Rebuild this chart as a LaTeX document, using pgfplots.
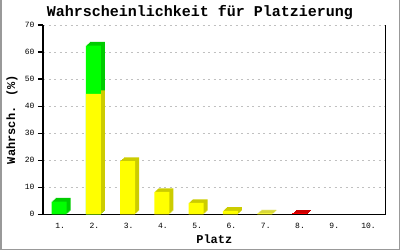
\documentclass[border=0pt]{standalone}
\usepackage{fontspec}
\setmainfont{Liberation Mono}
\usepackage{pgfplots}
\usepackage{pgfplotstable}
\pgfplotsset{compat=1.18}
\definecolor{gfront}{HTML}{00FF00}
\definecolor{gside}{HTML}{00CC00}
\definecolor{yfront}{HTML}{FFFF00}
\definecolor{yside}{HTML}{CCCC00}
\definecolor{rfront}{HTML}{FF0000}
\definecolor{rside}{HTML}{CC0000}
\definecolor{gridc}{HTML}{C0C0C0}
\pgfplotstableread{
x v
1 4.7
2 62.4
}\greendata
\pgfplotstableread{
x v
2 44.5
3 19.7
4 8.3
5 4.2
6 1.3
7 0.3
}\yellowdata
\pgfplotstableread{
x v
8 0.3
}\reddata
\begin{document}
\begin{tikzpicture}
\useasboundingbox (0,0) rectangle (400pt,250pt);
\draw[gray!80, line width=1.5pt] (0.75pt,250pt) -- (0.75pt,0.75pt) -- (399.25pt,0.75pt) -- (399.25pt,250pt);
\node[font=\fontsize{15}{18}\selectfont\bfseries] at (200pt,237.5pt) {Wahrscheinlichkeit für Platzierung};
\begin{axis}[
  at={(43pt,35.7pt)}, anchor=south west,
  scale only axis, width=342.7pt, height=189.3pt,
  xmin=0.5, xmax=10.5, ymin=0, ymax=70,
  axis x line=bottom, axis y line=left,
  axis line style={line width=1.2pt, -},
  ybar, bar width=15pt,
  xtick={1,...,10},
  xticklabels={1.,2.,3.,4.,5.,6.,7.,8.,9.,10.},
  xtick style={draw=none},
  ytick={0,10,...,70},
  ytick style={line width=1.2pt, black},
  tick align=outside, major tick length=5pt,
  ymajorgrids,
  major grid style={gridc, line width=0.8pt, dash pattern=on 2pt off 3.5pt},
  tick label style={font=\fontsize{8}{9}\selectfont},
  /pgf/number format/assume math mode=true,
  xlabel={Platz}, ylabel={Wahrsch. (\%)},
  label style={font=\fontsize{12}{14}\selectfont\bfseries},
  xlabel style={at={(axis description cs:0.5,-0.1305)}, anchor=center},
  ylabel style={at={(axis description cs:-0.0905,0.5)}, anchor=center, rotate=0},
  clip=false,
]
\pgfplotsinvokeforeach{1,2,3,4}{
  \addplot[fill=gside, draw=none, bar shift=-1pt, xshift=#1pt, yshift={0.9*#1pt}] table[x=x,y=v] {\greendata};
}
\pgfplotsinvokeforeach{1,2,3,4}{
  \addplot[fill=yside, draw=none, bar shift=-1pt, xshift=#1pt, yshift={0.9*#1pt}] table[x=x,y=v] {\yellowdata};
}
\pgfplotsinvokeforeach{1,2,3,4}{
  \addplot[fill=rside, draw=none, bar shift=-1pt, xshift=#1pt, yshift={0.9*#1pt}] table[x=x,y=v] {\reddata};
}
\addplot[fill=gfront, draw=none, bar shift=-1pt] table[x=x,y=v] {\greendata};
\addplot[fill=yfront, draw=none, bar shift=-1pt] table[x=x,y=v] {\yellowdata};
\addplot[fill=rfront, draw=none, bar shift=-1pt] table[x=x,y=v] {\reddata};
\draw[line width=1.2pt] (rel axis cs:1,0) -- (rel axis cs:1,1);
\end{axis}
\end{tikzpicture}
\end{document}
